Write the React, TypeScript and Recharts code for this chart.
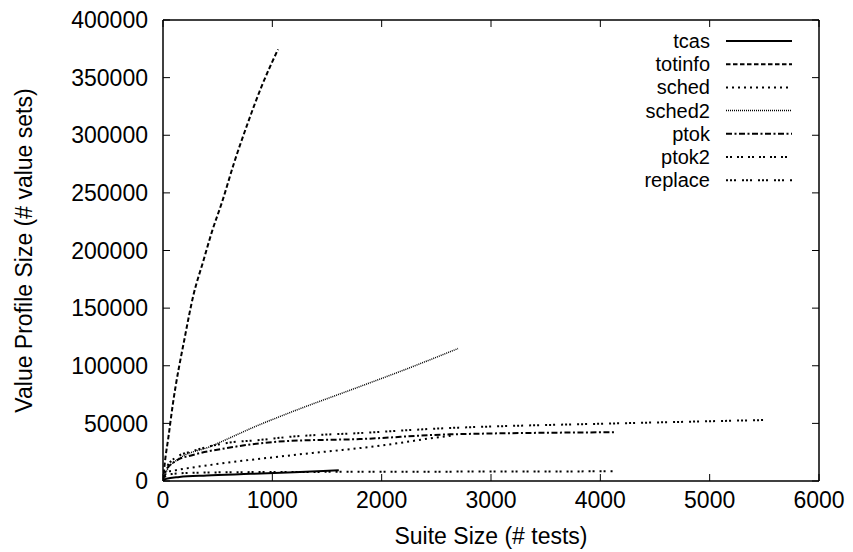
import React from 'react';
import { LineChart, Line, XAxis, YAxis, Legend, Label } from 'recharts';

// axis ticks
const xTicks = [0, 1000, 2000, 3000, 4000, 5000, 6000];
const yTicks = [0, 50000, 100000, 150000, 200000, 250000, 300000, 350000, 400000];

// suite size (x) vs value profile size (y)
const tcasX = [0, 30, 150, 400, 800, 1200, 1608];
const tcasY = [0, 2000, 3500, 4800, 6200, 7700, 9300];

const totinfoX = [0, 18, 48, 89, 200, 280, 366, 450, 540, 650, 777, 900, 1052];
const totinfoY = [0, 17000, 37000, 66000, 125000, 162000, 190000, 217000, 242000, 276000, 311000, 342000, 374500];

const schedX = [0, 37, 128, 430, 1143, 2030, 2552, 2650];
const schedY = [0, 7800, 9500, 13900, 22000, 31200, 38400, 39500];

const sched2X = [0, 40, 128, 430, 887, 1143, 1802, 2250, 2698];
const sched2Y = [0, 10000, 18200, 29800, 49000, 58700, 82000, 98000, 115000];

const ptokX = [0, 20, 110, 274, 585, 1143, 1802, 2625, 4130];
const ptokY = [0, 8000, 17000, 22600, 28600, 34700, 36400, 40500, 42300];

const ptok2X = [0, 20, 80, 300, 1000, 2000, 3000, 4115];
const ptok2Y = [0, 4000, 6000, 7200, 7800, 8000, 8200, 8400];

const replaceX = [0, 20, 110, 274, 585, 887, 1143, 1802, 2625, 2945, 4152, 5542];
const replaceY = [0, 9000, 20000, 26000, 33000, 35600, 38200, 41600, 46000, 47100, 50000, 53000];

// corners of the frame, used to give the mirrored axes a domain
const frameX = [0, 6000];
const frameY = [0, 400000];

const toPoints = (xs: number[], ys: number[]) => xs.map((x, i) => ({ x, y: ys[i] }));

const SERIES = [
  { name: 'tcas', dash: undefined, width: 2, points: toPoints(tcasX, tcasY) },
  { name: 'totinfo', dash: '4.5 2.5', width: 2, points: toPoints(totinfoX, totinfoY) },
  { name: 'sched', dash: '2 4', width: 2, points: toPoints(schedX, schedY) },
  { name: 'sched2', dash: '1 1', width: 1.5, points: toPoints(sched2X, sched2Y) },
  { name: 'ptok', dash: '6 2.5 2 2.5', width: 2, points: toPoints(ptokX, ptokY) },
  { name: 'ptok2', dash: '2 2 2 5', width: 2, points: toPoints(ptok2X, ptok2Y) },
  { name: 'replace', dash: '2 2 2 2 2 6', width: 2, points: toPoints(replaceX, replaceY) },
];

const FONT = '"Liberation Sans", Arial, Helvetica, sans-serif';

const ChartLegend = () => (
  <svg width={240} height={170} style={{ display: 'block' }}>
    {SERIES.map((s, i) => {
      const y = 13 + i * 23.2;
      return (
        <g key={s.name}>
          <text x={130} y={y} textAnchor="end" dominantBaseline="central" fontSize={20} fontFamily={FONT} fill="#000">
            {s.name}
          </text>
          <line x1={146} x2={212} y1={y} y2={y} stroke="#000" strokeWidth={s.width} strokeDasharray={s.dash} />
        </g>
      );
    })}
  </svg>
);

const App: React.FC = () => {
  const tickStyle = { fill: '#000', fontSize: 23, fontFamily: FONT };
  const axisLine = { stroke: '#000', strokeWidth: 1.5 };
  const blank = () => '';

  return (
    <div style={{ position: 'absolute', left: 0, top: 0, background: '#fff' }}>
      <LineChart width={853} height={552} margin={{ top: 19, right: 33, left: 0, bottom: 0 }}>
        <XAxis
          type="number"
          dataKey="x"
          domain={[0, 6000]}
          ticks={xTicks}
          height={71}
          tickSize={-7}
          tickMargin={18}
          axisLine={axisLine}
          tickLine={{ stroke: '#000' }}
          tick={tickStyle}
          allowDataOverflow
        >
          <Label value="Suite Size (# tests)" position="insideBottom" offset={8} fill="#000" fontSize={23} fontFamily={FONT} />
        </XAxis>
        <XAxis
          xAxisId="top"
          orientation="top"
          type="number"
          dataKey="x"
          domain={[0, 6000]}
          ticks={xTicks}
          height={1}
          tickSize={-7}
          axisLine={axisLine}
          tickLine={{ stroke: '#000' }}
          tick={tickStyle}
          tickFormatter={blank}
          allowDataOverflow
        />
        <YAxis
          type="number"
          domain={[0, 400000]}
          ticks={yTicks}
          width={163}
          tickSize={-7}
          tickMargin={22}
          axisLine={axisLine}
          tickLine={{ stroke: '#000' }}
          tick={tickStyle}
          allowDataOverflow
        >
          <Label
            value="Value Profile Size (# value sets)"
            angle={-90}
            position="insideLeft"
            offset={24}
            fill="#000"
            fontSize={23}
            fontFamily={FONT}
            style={{ textAnchor: 'middle' }}
          />
        </YAxis>
        <YAxis
          yAxisId="right"
          orientation="right"
          type="number"
          domain={[0, 400000]}
          ticks={yTicks}
          width={1}
          tickSize={-7}
          axisLine={axisLine}
          tickLine={{ stroke: '#000' }}
          tick={tickStyle}
          tickFormatter={blank}
          allowDataOverflow
        />
        <Legend
          layout="vertical"
          align="center"
          verticalAlign="middle"
          content={<ChartLegend />}
          wrapperStyle={{ left: 580, top: 28, width: 240, height: 170 }}
        />
        <Line
          xAxisId="top"
          yAxisId="right"
          data={toPoints(frameX, frameY)}
          dataKey="y"
          stroke="none"
          dot={false}
          activeDot={false}
          legendType="none"
          isAnimationActive={false}
        />
        {SERIES.map((s) => (
          <Line
            key={s.name}
            data={s.points}
            dataKey="y"
            name={s.name}
            type="monotone"
            stroke="#000"
            strokeWidth={s.width}
            strokeDasharray={s.dash}
            dot={false}
            activeDot={false}
            isAnimationActive={false}
          />
        ))}
      </LineChart>
    </div>
  );
};

export default App;
